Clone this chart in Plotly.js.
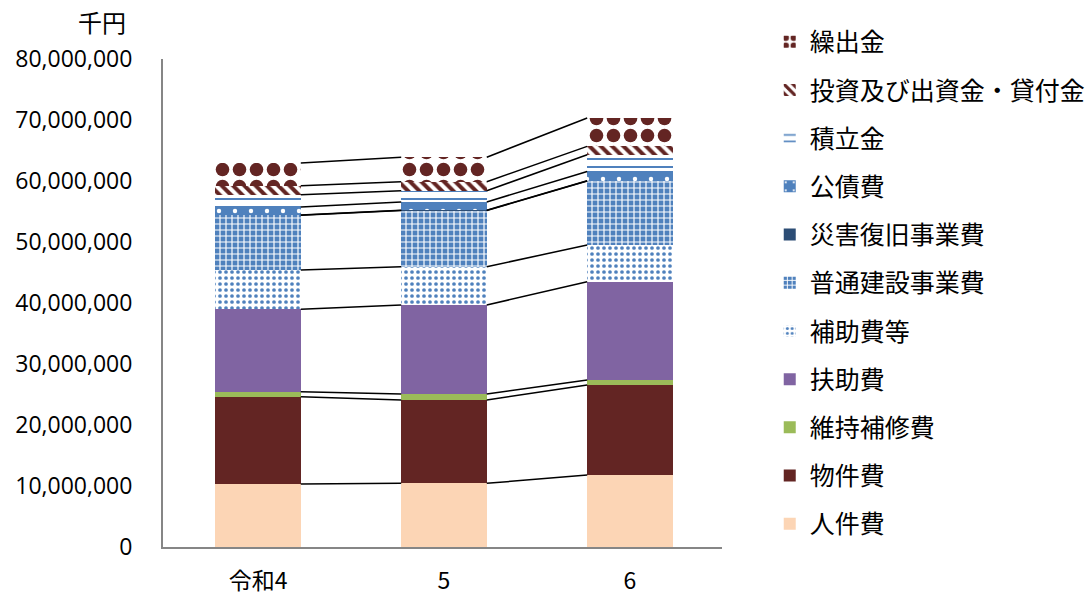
<!DOCTYPE html>
<html>
<head>
<meta charset="utf-8">
<script src="https://cdn.plot.ly/plotly-3.0.1.min.js"></script>
<style>html,body{margin:0;padding:0;background:#fff;}#chart{width:1086px;height:595px;}</style>
</head>
<body>
<div id="chart"></div>
<script>
// ---- data (千円) ----
const categories = ['令和4', '5', '6'];
const seriesNames = ['人件費', '物件費', '維持補修費', '扶助費', '補助費等', '普通建設事業費', '災害復旧事業費', '公債費', '積立金', '投資及び出資金・貸付金', '繰出金'];
const jinkenhi   = [10330000, 10440000, 11800000];
const bukkenhi   = [14310000, 13660000, 14760000];
const ijihoshu   = [820000, 980000, 820000];
const fujohi     = [13510000, 14590000, 16110000];
const hojohi     = [6440000, 6280000, 6020000];
const futsuken   = [8970000, 9210000, 10490000];
const saigai     = [50000, 50000, 50000];
const kousaihi   = [1310000, 1350000, 1520000];
const tsumitate  = [2010000, 1850000, 2740000];
const toushi     = [1480000, 1480000, 1360000];
const kuridashi  = [3720000, 4010000, 4660000];
const yTickVals  = [0, 10000000, 20000000, 30000000, 40000000, 50000000, 60000000, 70000000, 80000000];
const yTickText  = ['0', '10,000,000', '20,000,000', '30,000,000', '40,000,000', '50,000,000', '60,000,000', '70,000,000', '80,000,000'];

const seriesValues = [jinkenhi, bukkenhi, ijihoshu, fujohi, hojohi, futsuken, saigai, kousaihi, tsumitate, toushi, kuridashi];

const styles = [
  {color: '#FCD5B5'},
  {color: '#632523'},
  {color: '#9BBB59'},
  {color: '#8064A2'},
  {color: '#FFFFFF', pattern: {shape: '.', fgcolor: '#4F81BD', bgcolor: '#FFFFFF', size: 6, solidity: 0.3}},
  {color: '#4F81BD', pattern: {shape: '+', fgcolor: '#FFFFFF', bgcolor: '#4F81BD', size: 6, solidity: 0.35}},
  {color: '#2C4D75'},
  {color: '#4F81BD', pattern: {shape: '.', fgcolor: '#FFFFFF', bgcolor: '#4F81BD', size: 16, solidity: 0.06}},
  {color: '#FFFFFF', pattern: {shape: '-', fgcolor: '#4F81BD', bgcolor: '#FFFFFF', size: 8, solidity: 0.25}},
  {color: '#FFFFFF', pattern: {shape: '\\', fgcolor: '#632523', bgcolor: '#FFFFFF', size: 8, solidity: 0.5}},
  {color: '#FFFFFF', pattern: {shape: '.', fgcolor: '#632523', bgcolor: '#FFFFFF', size: 17, solidity: 0.5}}
];

const xPos = categories.map((c, i) => i);
const barWidth = 0.46;
const traces = [];

seriesValues.forEach((vals, k) => {
  const st = styles[k];
  const marker = {color: st.color, line: {width: 0}};
  if (st.pattern) marker.pattern = Object.assign({fillmode: 'replace'}, st.pattern);
  traces.push({
    type: 'bar', name: seriesNames[k], x: xPos, y: vals, width: barWidth,
    marker: marker, legendgroup: 'g' + k, legendrank: 1000 - k, hoverinfo: 'name+y'
  });
});

// series lines connecting stack tops
const cum = categories.map(() => 0);
seriesValues.forEach((vals, k) => {
  vals.forEach((v, i) => { cum[i] += v; });
  const lx = [], ly = [];
  for (let i = 0; i < categories.length - 1; i++) {
    lx.push(xPos[i] + barWidth / 2, xPos[i + 1] - barWidth / 2, null);
    ly.push(cum[i], cum[i + 1], null);
  }
  traces.push({
    type: 'scatter', mode: 'lines', x: lx, y: ly, showlegend: false,
    line: {color: '#000000', width: 1.5}, hoverinfo: 'skip'
  });
});

const font = '"Noto Sans CJK JP", "Noto Sans", sans-serif';
const layout = {
  width: 1086, height: 595,
  barmode: 'stack',
  paper_bgcolor: '#FFFFFF', plot_bgcolor: '#FFFFFF',
  margin: {l: 163, r: 364, t: 59, b: 48, autoexpand: false},
  font: {family: font, size: 20, color: '#000000'},
  showlegend: true,
  legend: {
    x: 1.0854, xanchor: 'left', y: 1.082, yanchor: 'top',
    traceorder: 'grouped', tracegroupgap: 12.7, maxheight: 590,
    font: {family: font, size: 25, color: '#000000'},
    itemwidth: 30, bgcolor: 'rgba(0,0,0,0)'
  },
  xaxis: {
    range: [-0.511, 2.495], tickvals: xPos, ticktext: categories,
    showline: true, linecolor: '#868686', linewidth: 2, ticks: '',
    showgrid: false, zeroline: false, fixedrange: true,
    tickfont: {family: font, size: 23}, ticklabelstandoff: 12
  },
  yaxis: {
    range: [0, 80000000], tickvals: yTickVals, ticktext: yTickText,
    showline: true, linecolor: '#868686', linewidth: 2, ticks: '',
    showgrid: false, zeroline: false, fixedrange: true,
    tickfont: {family: '"Open Sans", sans-serif', size: 23}, ticklabelstandoff: 24
  },
  annotations: [{
    text: '千円', xref: 'paper', yref: 'paper', x: -0.062, y: 1.077,
    xanchor: 'right', yanchor: 'middle', showarrow: false,
    font: {family: font, size: 24, color: '#000000'}
  }]
};

Plotly.newPlot('chart', traces, layout, {staticPlot: true, displayModeBar: false});
</script>
</body>
</html>
